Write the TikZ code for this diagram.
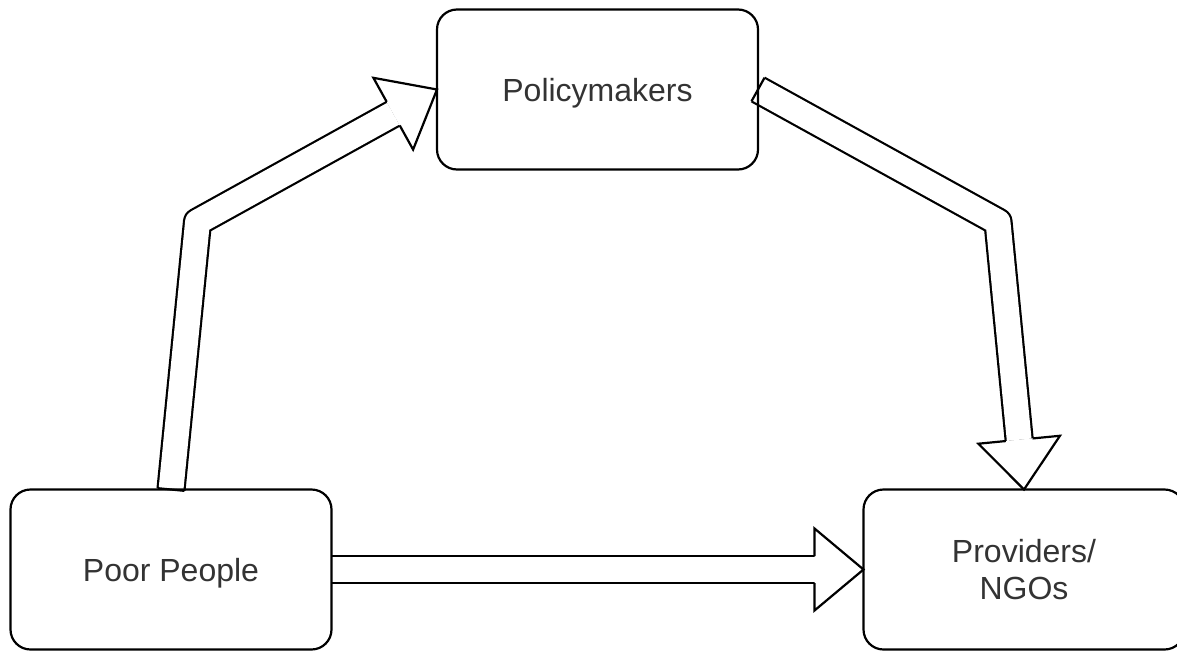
\documentclass[tikz,border=0pt]{standalone}
\usepackage{fontspec}
\setmainfont{Liberation Sans}
\usepackage{tikz}
\usetikzlibrary{positioning,calc,backgrounds}
\definecolor{textgray}{RGB}{51, 51, 51}
\tikzstyle{box} = [rectangle, rounded corners=20pt, draw=black, line width=2.2pt, outer sep=0pt, minimum width=321pt, minimum height=160pt, align=center, text depth=0pt, text=textgray, font=\fontsize{32}{37}\selectfont]
\tikzstyle{shaft} = [draw=black, line width=2.2pt, double=white, double distance=24.8pt, line join=round]
\tikzstyle{head} = [draw=black, line width=2.2pt, fill=white, line join=miter]
\tikzstyle{tail} = [draw=black, line width=2.2pt]

\begin{document}
\begin{tikzpicture}[x=1pt, y=-1pt]
\useasboundingbox (0,0) rectangle (1177,651);
\clip (0,0) rectangle (1177,651);

% boxes =============================

\node[box] (poor) at (171,569.5) {Poor People};
\node[box, right=532pt of poor] (ngo) {Providers/\\NGOs};
\node[box] (policy) at (597.5,89.5) {Policymakers};

% bends of the two long arrows
\coordinate (bendL) at (197.5,222);
\coordinate (bendR) at (998,222);

% arrows =============================

\begin{scope}[on background layer]

% poor people to policymakers
\coordinate (headL) at ($(policy.west)!50pt!(bendL)$);
\draw[shaft] (poor.north) -- (bendL) -- (headL);
\draw[head] ($(headL)!13.5pt!90:(policy.west)$) -- ($(headL)!41pt!90:(policy.west)$) -- (policy.west) -- ($(headL)!41pt!-90:(policy.west)$) -- ($(headL)!13.5pt!-90:(policy.west)$);
\draw[tail] ($(poor.north)!13.5pt!90:(bendL)$) -- ($(poor.north)!13.5pt!-90:(bendL)$);

% policymakers to providers
\coordinate (headR) at ($(ngo.north)!50pt!(bendR)$);
\draw[shaft] (policy.east) -- (bendR) -- (headR);
\draw[head] ($(headR)!13.5pt!90:(ngo.north)$) -- ($(headR)!41pt!90:(ngo.north)$) -- (ngo.north) -- ($(headR)!41pt!-90:(ngo.north)$) -- ($(headR)!13.5pt!-90:(ngo.north)$);
\draw[tail] ($(policy.east)!13.5pt!90:(bendR)$) -- ($(policy.east)!13.5pt!-90:(bendR)$);

% poor people to providers
\coordinate (headH) at ($(ngo.west)!49pt!(poor.east)$);
\draw[shaft] (poor.east) -- (headH);
\draw[head] ($(headH)!13.5pt!90:(ngo.west)$) -- ($(headH)!41pt!90:(ngo.west)$) -- (ngo.west) -- ($(headH)!41pt!-90:(ngo.west)$) -- ($(headH)!13.5pt!-90:(ngo.west)$);

\end{scope}

\end{tikzpicture}
\end{document}
